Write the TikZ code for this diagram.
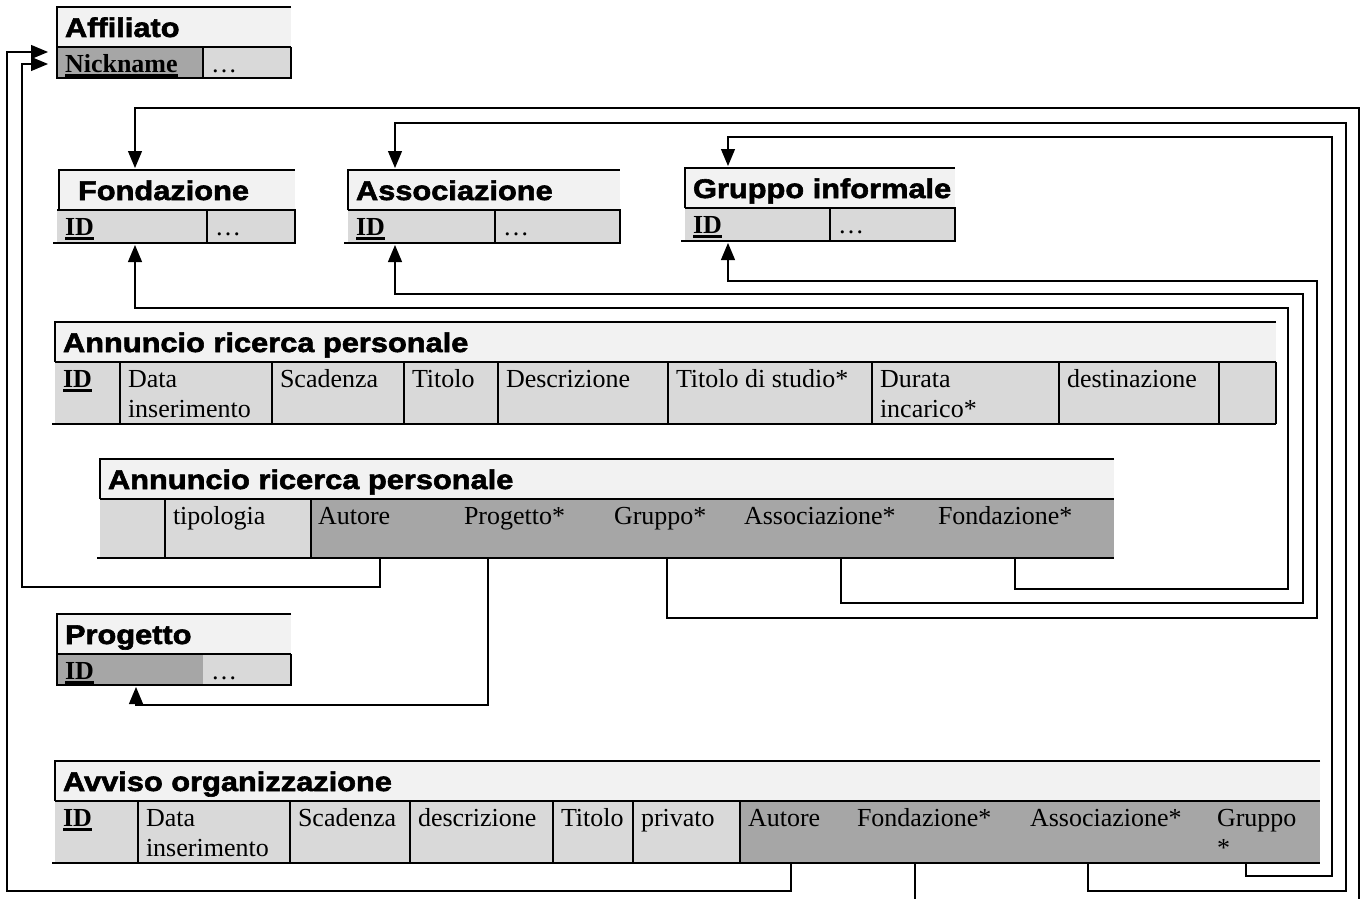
\documentclass[tikz,border=0pt]{standalone}
\usepackage{fontspec}
\setmainfont{Liberation Serif}
\newfontfamily\ttlfont{Liberation Sans}[FakeStretch=1.14,FakeBold=2.2]
\usetikzlibrary{arrows.meta,calc}

\definecolor{ttlgray}{HTML}{F2F2F2}
\definecolor{lgray}{HTML}{D9D9D9}
\definecolor{dgray}{HTML}{A6A6A6}

\newsavebox{\keybox}
\newcommand{\keyfld}[1]{\sbox{\keybox}{\textbf{#1}}\rlap{\rule[-4.5pt]{\wd\keybox}{2.5pt}}\usebox{\keybox}}
\newcommand{\ttlbox}[3][8]{\parbox[t][40pt][t]{#2pt}{\raggedright\leftskip=#1pt\rule{0pt}{30pt}#3}}
\newcommand{\fldbox}[3]{\parbox[t][#2pt][t]{#1pt}{\raggedright\leftskip=8pt\rule{0pt}{25pt}#3}}

\tikzset{
    tbl/.style={anchor=north west, inner sep=0pt, outer sep=0pt},
    ttl/.style={tbl, fill=ttlgray, font=\ttlfont\bfseries\fontsize{27}{30}\selectfont},
    fld/.style={tbl, fill=lgray, font=\fontsize{26}{30}\selectfont},
    keyf/.style={fld, fill=dgray},
    rule/.style={line width=1.6pt},
    fk/.style={line width=1.2pt, shorten >=2pt, -{Triangle[length=17pt,width=14pt]}}
}

\begin{document}
\begin{tikzpicture}[x=1pt,y=-1pt]
    \pgfmathsetmacro{\smallh}{33}
    \pgfmathsetmacro{\bigh}{62}
    \useasboundingbox (0,0) rectangle (1365,899);
    \clip (0,0) rectangle (1365,899);

    % Affiliato
    \node[ttl] (afft) at (57,7) {\ttlbox{234}{Affiliato}};
    \node[keyf] (affnick) at (57,47) {\fldbox{146}{31}{\keyfld{Nickname}}};
    \node[fld] (affdots) at (affnick.north east) {\fldbox{88}{31}{\dots}};
    \draw[rule] (afft.north east) -- (afft.north west) -- (affnick.south west) -- (affdots.south east) -- (affdots.north east);
    \draw[rule] (afft.south west) -- (afft.south east);
    \draw[rule] (affnick.north east) -- (affnick.south east);

    % Fondazione, Associazione, Gruppo informale
    \node[ttl] (font) at (59,170) {\ttlbox[19]{236}{Fondazione}};
    \node[fld] (fonid) at (57,210) {\fldbox{150}{\smallh}{\keyfld{ID}}};
    \node[fld] (fondots) at (fonid.north east) {\fldbox{88}{\smallh}{\dots}};
    \node[ttl] (asst) at (348,170) {\ttlbox{272}{Associazione}};
    \node[fld] (assid) at (348,210) {\fldbox{147}{\smallh}{\keyfld{ID}}};
    \node[fld] (assdots) at (assid.north east) {\fldbox{125}{\smallh}{\dots}};
    \node[ttl] (grpt) at (685,168) {\ttlbox{270}{Gruppo informale}};
    \node[fld] (grpid) at (685,208) {\fldbox{145}{\smallh}{\keyfld{ID}}};
    \node[fld] (grpdots) at (grpid.north east) {\fldbox{125}{\smallh}{\dots}};
    \foreach \t/\i/\d in {font/fonid/fondots, asst/assid/assdots, grpt/grpid/grpdots} {
        \draw[rule] (\t.south west) -- (\t.north west) -- (\t.north east);
        \draw[rule] (\i.north west) -- (\d.north east) -- (\d.south east) -- ([xshift=-4pt]\i.south west);
        \draw[rule] (\i.north east) -- (\i.south east);
    }

    % Annuncio ricerca personale (1)
    \node[ttl] (a1t) at (55,322) {\ttlbox{1221}{Annuncio ricerca personale}};
    \node[fld] (a1id) at (55,362) {\fldbox{65}{\bigh}{\keyfld{ID}}};
    \node[fld] (a1dat) at (a1id.north east) {\fldbox{152}{\bigh}{Data\\inserimento}};
    \node[fld] (a1sca) at (a1dat.north east) {\fldbox{132}{\bigh}{Scadenza}};
    \node[fld] (a1tit) at (a1sca.north east) {\fldbox{94}{\bigh}{Titolo}};
    \node[fld] (a1des) at (a1tit.north east) {\fldbox{170}{\bigh}{Descrizione}};
    \node[fld] (a1stu) at (a1des.north east) {\fldbox{204}{\bigh}{Titolo di studio*}};
    \node[fld] (a1dur) at (a1stu.north east) {\fldbox{187}{\bigh}{Durata\\incarico*}};
    \node[fld] (a1dst) at (a1dur.north east) {\fldbox{160}{\bigh}{destinazione}};
    \node[fld] (a1emp) at (a1dst.north east) {\fldbox{57}{\bigh}{}};
    \draw[rule] (a1t.north east) -- (a1t.north west) -- (a1t.south west);
    \draw[rule] (a1t.south west) -- (a1t.south east);
    \draw[rule] ([xshift=-3pt]a1id.south west) -- (a1emp.south east);
    \foreach \c in {a1id,a1dat,a1sca,a1tit,a1des,a1stu,a1dur,a1dst,a1emp}
        \draw[rule] (\c.north east) -- (\c.south east);

    % Annuncio ricerca personale (2)
    \node[ttl] (a2t) at (100,459) {\ttlbox{1014}{Annuncio ricerca personale}};
    \node[fld] (a2emp) at (100,499) {\fldbox{65}{59}{}};
    \node[fld] (a2typ) at (a2emp.north east) {\fldbox{146}{59}{tipologia}};
    \node[keyf] (a2aut) at (a2typ.north east) {\fldbox{145}{59}{\hspace*{-1pt}Autore}};
    \node[keyf] (a2prj) at (a2aut.north east) {\fldbox{150}{59}{Progetto*}};
    \node[keyf] (a2grp) at (a2prj.north east) {\fldbox{130}{59}{Gruppo*}};
    \node[keyf] (a2ass) at (a2grp.north east) {\fldbox{194}{59}{Associazione*}};
    \node[keyf] (a2fon) at (a2ass.north east) {\fldbox{184}{59}{Fondazione*}};
    \draw[rule] (a2t.north east) -- (a2t.north west) -- (a2t.south west);
    \draw[rule] (a2t.south west) -- (a2t.south east);
    \draw[rule] ([xshift=-3pt]a2emp.south west) -- (a2fon.south east);
    \foreach \c in {a2emp,a2typ}
        \draw[rule] (\c.north east) -- (\c.south east);

    % Progetto
    \node[ttl] (prjt) at (57,614) {\ttlbox{234}{Progetto}};
    \node[keyf] (prjid) at (57,654) {\fldbox{146}{31}{\keyfld{ID}}};
    \node[fld] (prjdots) at (prjid.north east) {\fldbox{88}{31}{\dots}};
    \draw[rule] (prjt.north east) -- (prjt.north west) -- (prjid.south west) -- (prjdots.south east) -- (prjdots.north east);
    \draw[rule] (prjt.south west) -- (prjt.south east);

    % Avviso organizzazione
    \node[ttl] (avt) at (55,761) {\ttlbox{1265}{Avviso organizzazione}};
    \node[fld] (avid) at (55,801) {\fldbox{83}{\bigh}{\keyfld{ID}}};
    \node[fld] (avdat) at (avid.north east) {\fldbox{152}{\bigh}{Data\\inserimento}};
    \node[fld] (avsca) at (avdat.north east) {\fldbox{120}{\bigh}{Scadenza}};
    \node[fld] (avdes) at (avsca.north east) {\fldbox{143}{\bigh}{descrizione}};
    \node[fld] (avtit) at (avdes.north east) {\fldbox{80}{\bigh}{Titolo}};
    \node[fld] (avpri) at (avtit.north east) {\fldbox{107}{\bigh}{privato}};
    \node[keyf] (avaut) at (avpri.north east) {\fldbox{109}{\bigh}{Autore}};
    \node[keyf] (avfon) at (avaut.north east) {\fldbox{173}{\bigh}{Fondazione*}};
    \node[keyf] (avass) at (avfon.north east) {\fldbox{187}{\bigh}{Associazione*}};
    \node[keyf] (avgrp) at (avass.north east) {\fldbox{111}{\bigh}{Gruppo\\{}*}};
    \draw[rule] (avt.north east) -- (avt.north west) -- (avt.south west);
    \draw[rule] (avt.south west) -- (avt.south east);
    \draw[rule] ([xshift=-3pt]avid.south west) -- (avgrp.south east);
    \foreach \c in {avid,avdat,avsca,avdes,avtit,avpri}
        \draw[rule] (\c.north east) -- (\c.south east);

    % foreign keys of Annuncio (2)
    \draw[fk] ([xshift=69pt]a2aut.south west) |- (22,587) |- ($(affnick.west)+(-7,1.5)$);
    \draw[fk] ([xshift=32pt]a2prj.south west) |- (136,705) -- ($(prjid.south west)+(79,0)$);
    \draw[fk] ([xshift=61pt]a2grp.south west) |- (1317,618) |- (728,281) -- ($(grpid.south west)+(43,0)$);
    \draw[fk] ([xshift=105pt]a2ass.south west) |- (1303,603) |- (395,294) -- ($(assid.south west)+(47,0)$);
    \draw[fk] ([xshift=85pt]a2fon.south west) |- (1288,589) |- (135,308) -- ($(fonid.south west)+(78,0)$);

    % foreign keys of Avviso
    \draw[fk] ([xshift=51pt]avaut.south west) |- (7,891) |- ($(affnick.west)+(-7,-10.5)$);
    \draw[fk] ([xshift=66pt]avfon.south west) |- (1359,912) |- (135,108) -- ($(font.north west)+(76,0)$);
    \draw[fk] ([xshift=66pt]avass.south west) |- (1346,891) |- (395,123) -- ($(asst.north west)+(47,0)$);
    \draw[fk] ([xshift=37pt]avgrp.south west) |- (1332,876) |- (728,137) -- ($(grpt.north west)+(43,0)$);
\end{tikzpicture}
\end{document}
